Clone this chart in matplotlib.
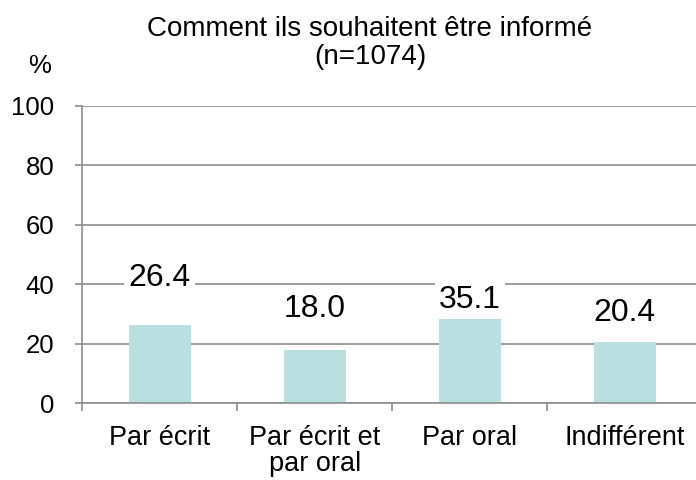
import matplotlib
matplotlib.use("Agg")
import matplotlib.pyplot as plt
import numpy as np

plt.rcParams['font.family'] = ['Liberation Sans', 'DejaVu Sans']

# données
categories = ["Par écrit", "Par écrit et\npar oral", "Par oral", "Indifférent"]
values = [26.4, 18.0, 35.1, 20.4]
# hauteur des étiquettes (placement Excel)
label_y = [42.1, 31.6, 34.7, 30.3]

bar_color = "#b9dfe1"
grid_color = "#8c8c8c"

fig = plt.figure(figsize=(6.96, 4.8), dpi=100)
ax = fig.add_axes([0.118, 0.1604, 0.891, 0.6188])

x = np.arange(len(categories))
ax.bar(x, values, width=0.4, color=bar_color, zorder=2)

for xi, v, ly in zip(x, values, label_y):
    ax.text(xi, ly, f"{v:.1f}", ha='center', va='center', fontsize=23,
            zorder=3, bbox=dict(facecolor='white', edgecolor='none', pad=3))

ax.set_xlim(-0.5, 3.5)
ax.set_ylim(0, 100)
ax.set_yticks(range(0, 101, 20))
ax.yaxis.grid(True, color=grid_color, linewidth=1.2, zorder=0)
ax.set_axisbelow(True)

ax.set_xticks(x)
ax.set_xticklabels(categories, fontsize=19.5, linespacing=1.0)
ax.set_xticks(np.arange(-0.5, 3.6, 1), minor=True)
ax.tick_params(axis='x', which='major', length=0, pad=16)
ax.tick_params(axis='x', which='minor', length=6, color=grid_color, width=1.2)
ax.tick_params(axis='y', labelsize=18.5, length=5, color=grid_color, width=1.2, pad=15)

for s in ['top', 'right']:
    ax.spines[s].set_visible(False)
for s in ['left', 'bottom']:
    ax.spines[s].set_color(grid_color)
    ax.spines[s].set_linewidth(1.2)

fig.text(370 / 696, 1 - 43 / 480, "Comment ils souhaitent être informé\n(n=1074)",
         ha='center', va='center', fontsize=20, linespacing=1.12)
fig.text(40 / 696, 1 - 66 / 480, "%", ha='center', va='center', fontsize=18.5)

fig.savefig("out.png", dpi=100)
